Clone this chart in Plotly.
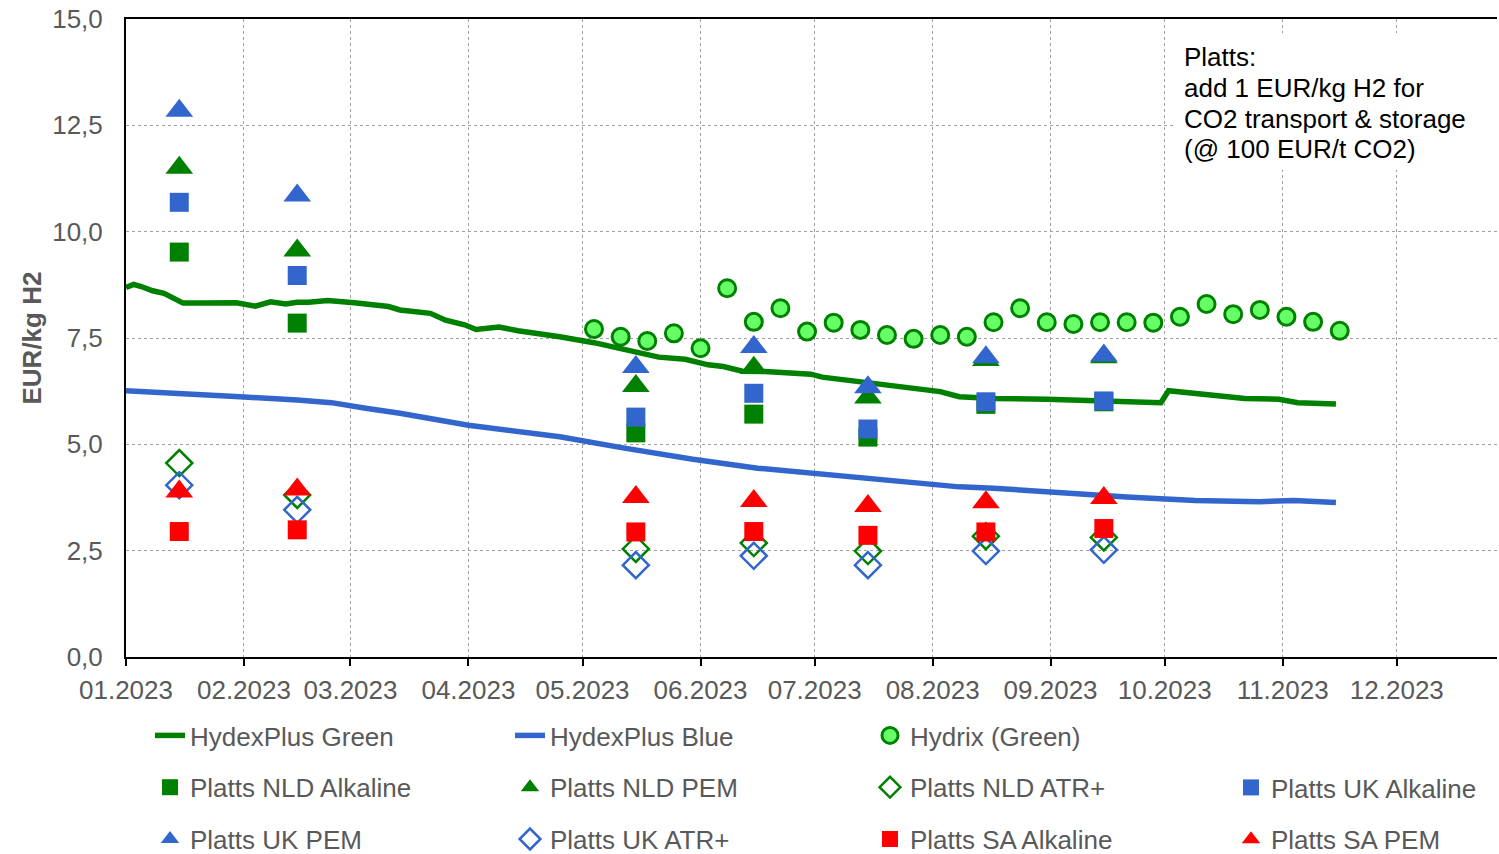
import plotly.graph_objects as go

# ---------------- data ----------------
green_dates = ["2023-01-01","2023-01-03","2023-01-05","2023-01-08","2023-01-11","2023-01-13","2023-01-16",
               "2023-01-21","2023-01-30","2023-02-04","2023-02-08","2023-02-12","2023-02-15","2023-02-18",
               "2023-02-23","2023-03-02","2023-03-06","2023-03-11","2023-03-14","2023-03-20","2023-03-22",
               "2023-03-26","2023-03-31","2023-04-03","2023-04-09","2023-04-14","2023-04-21","2023-04-25",
               "2023-05-04","2023-05-12","2023-05-21","2023-05-28","2023-06-03","2023-06-07","2023-06-12",
               "2023-06-18","2023-06-25","2023-06-30","2023-07-03","2023-07-08","2023-07-17","2023-07-21",
               "2023-07-28","2023-08-03","2023-08-08","2023-08-17","2023-08-31","2023-09-13","2023-09-18",
               "2023-09-21","2023-09-30","2023-10-02","2023-10-09","2023-10-15","2023-10-22","2023-10-31",
               "2023-11-05","2023-11-15"]
green_values = [8.69,8.76,8.71,8.61,8.55,8.46,8.32,8.32,8.33,8.25,8.35,8.30,8.34,8.34,8.38,8.33,8.28,8.24,
                8.16,8.10,8.08,7.92,7.81,7.70,7.76,7.67,7.59,7.53,7.39,7.22,7.05,7.00,6.87,6.83,6.72,6.71,
                6.67,6.65,6.58,6.53,6.44,6.40,6.32,6.24,6.12,6.08,6.06,6.03,6.00,5.98,5.98,6.26,6.18,6.14,
                6.08,6.06,5.98,5.95]

blue_dates = ["2023-01-01","2023-01-12","2023-01-23","2023-01-31","2023-02-15","2023-02-24","2023-03-05",
              "2023-03-14","2023-04-01","2023-04-14","2023-04-25","2023-05-12","2023-05-30","2023-06-16",
              "2023-07-04","2023-07-21","2023-08-08","2023-08-17","2023-09-04","2023-09-21","2023-10-09",
              "2023-10-26","2023-11-04","2023-11-15"]
blue_values = [6.26,6.22,6.18,6.12,6.04,5.98,5.85,5.73,5.45,5.29,5.18,4.91,4.65,4.44,4.28,4.15,4.00,3.97,
               3.85,3.76,3.68,3.65,3.68,3.63]

hydrix_dates = ["2023-05-04","2023-05-11","2023-05-18","2023-05-25","2023-06-01","2023-06-08","2023-06-15",
                "2023-06-22","2023-06-29","2023-07-06","2023-07-13","2023-07-20","2023-07-27","2023-08-03",
                "2023-08-10","2023-08-17","2023-08-24","2023-08-31","2023-09-07","2023-09-14","2023-09-21",
                "2023-09-28","2023-10-05","2023-10-12","2023-10-19","2023-10-26","2023-11-02","2023-11-09",
                "2023-11-16"]
hydrix_values = [7.71,7.53,7.43,7.61,7.26,8.67,7.88,8.20,7.65,7.86,7.69,7.57,7.48,7.57,7.53,7.87,8.20,7.87,
                 7.83,7.87,7.87,7.86,8.00,8.30,8.06,8.16,8.00,7.88,7.67]

platts_dates = ["2023-01-15","2023-02-15","2023-05-15","2023-06-15","2023-07-15","2023-08-15","2023-09-15"]
nld_alkaline = [9.52, 7.85, 5.27, 5.71, 5.17, 5.94, 6.00]
nld_pem      = [11.50, 9.56, 6.37, 6.80, 6.10, 6.98, 7.05]
nld_atr      = [4.56, 3.81, 2.54, 2.68, 2.49, 2.84, 2.81]
uk_alkaline  = [10.69, 8.97, 5.64, 6.20, 5.36, 6.00, 6.02]
uk_pem       = [12.84, 10.85, 6.82, 7.29, 6.34, 7.05, 7.09]
uk_atr       = [4.04, 3.46, 2.16, 2.38, 2.16, 2.49, 2.52]
sa_alkaline  = [2.95, 2.99, 2.94, 2.95, 2.86, 2.94, 3.02]
sa_pem       = [3.89, 3.94, 3.76, 3.67, 3.55, 3.64, 3.74]

month_ticks = ["2023-01-01","2023-02-01","2023-03-01","2023-04-01","2023-05-01","2023-06-01",
               "2023-07-01","2023-08-01","2023-09-01","2023-10-01","2023-11-01","2023-12-01"]

y_title = "EUR/kg H2"
note_lines = ["Platts:", "add 1 EUR/kg H2 for", "CO2 transport &amp; storage", "(@ 100 EUR/t CO2)"]

# ---------------- styles ----------------
GREEN = "#008000"
BLUE = "#3366CC"
RED = "#FF0000"
LIGHTGREEN = "#66FF66"
FONT = "Liberation Sans, Arial, sans-serif"
GRAY = "#595959"
FS = 26

W, H = 1499, 854
PL, PR, PT, PB = 126, 1497, 19, 657   # plot area in pixels

fig = go.Figure()

fig.add_trace(go.Scatter(x=green_dates, y=green_values, mode="lines", name="HydexPlus Green",
                         line=dict(color=GREEN, width=5.5), legend="legend", legendgroup="g1"))
fig.add_trace(go.Scatter(x=blue_dates, y=blue_values, mode="lines", name="HydexPlus Blue",
                         line=dict(color=BLUE, width=5.5), legend="legend2", legendgroup="g2"))
fig.add_trace(go.Scatter(x=hydrix_dates, y=hydrix_values, mode="markers", name="Hydrix (Green)",
                         marker=dict(symbol="circle", size=17, color=LIGHTGREEN,
                                     line=dict(color=GREEN, width=3)),
                         legend="legend3", legendgroup="g3"))

def pts(name, vals, symbol, color, leg, size, grp):
    if symbol == "diamond-open":
        marker = dict(symbol=symbol, size=size, color=color, line=dict(color=color, width=2.5))
    else:
        marker = dict(symbol=symbol, size=size, color=color, line=dict(width=0))
    fig.add_trace(go.Scatter(x=platts_dates, y=vals, mode="markers", name=name,
                             marker=marker, legend=leg, legendgroup=grp))

pts("Platts NLD Alkaline", nld_alkaline, "square", GREEN, "legend", 19, "g4")
pts("Platts NLD PEM", nld_pem, "triangle-up", GREEN, "legend2", 24, "g5")
pts("Platts NLD ATR+", nld_atr, "diamond-open", GREEN, "legend3", 20, "g6")
pts("Platts UK Alkaline", uk_alkaline, "square", BLUE, "legend4", 19, "g7")
pts("Platts UK PEM", uk_pem, "triangle-up", BLUE, "legend", 24, "g8")
pts("Platts UK ATR+", uk_atr, "diamond-open", BLUE, "legend2", 20, "g9")
pts("Platts SA Alkaline", sa_alkaline, "square", RED, "legend3", 19, "g10")
pts("Platts SA PEM", sa_pem, "triangle-up", RED, "legend4", 24, "g11")

ROW1_TOP = 712
ROW2_TOP = 764
def leg(xpx, toppx):
    return dict(orientation="v", xref="container", yref="container", x=xpx / W, y=1 - toppx / H,
                xanchor="left", yanchor="top", traceorder="grouped", tracegroupgap=15,
                font=dict(family=FONT, size=FS, color=GRAY), bgcolor="rgba(0,0,0,0)",
                borderwidth=0, itemclick=False, itemdoubleclick=False)

px = lambda v: (v - PL) / (PR - PL)
py = lambda v: (PB - v) / (PB - PT)

annotations = [dict(xref="paper", yref="paper", x=px(1175), y=py(101.5), xanchor="left", yanchor="middle",
                    text=" ", showarrow=False, bgcolor="white", width=330, height=137,
                    borderpad=0, borderwidth=0)]
for txt, yc in zip(note_lines, [57, 88, 119, 149]):
    annotations.append(dict(xref="paper", yref="paper", x=px(1184), y=py(yc), xanchor="left",
                            yanchor="middle", text=txt, showarrow=False, align="left",
                            borderpad=0, borderwidth=0,
                            font=dict(family=FONT, size=FS, color="black")))
annotations.append(dict(xref="paper", yref="paper", x=px(31), y=py(338.5), xanchor="center",
                        yanchor="middle", text="<b>" + y_title + "</b>", textangle=-90,
                        showarrow=False, font=dict(family=FONT, size=FS, color=GRAY)))

fig.update_layout(
    width=W, height=H,
    margin=dict(l=PL, r=W - PR, t=PT, b=H - PB, autoexpand=False),
    plot_bgcolor="white", paper_bgcolor="white",
    separators=",.",
    font=dict(family=FONT, size=FS, color=GRAY),
    showlegend=True,
    legend=leg(150, ROW1_TOP),
    legend2=leg(510, ROW1_TOP),
    legend3=leg(870, ROW1_TOP),
    legend4=leg(1231, ROW2_TOP),
    xaxis=dict(
        type="date", range=["2023-01-01", "2023-12-27 08:00"],
        tickvals=month_ticks, tickformat="%m.%Y",
        ticks="outside", ticklen=7, tickcolor="black", tickwidth=2,
        showline=True, linecolor="black", linewidth=2, mirror=True,
        showgrid=True, gridcolor="#A0A0A0", griddash="dot", gridwidth=1,
        tickfont=dict(family=FONT, size=FS, color=GRAY),
        ticklabelstandoff=2, automargin=False,
        zeroline=False,
    ),
    yaxis=dict(
        range=[0, 15], dtick=2.5, tick0=0, tickformat=".1f",
        ticks="", showline=True, linecolor="black", linewidth=2, mirror=False,
        showgrid=True, gridcolor="#A0A0A0", griddash="dot", gridwidth=1,
        tickfont=dict(family=FONT, size=FS, color=GRAY),
        ticklabelstandoff=16, automargin=False,
        zeroline=False,
    ),
    annotations=annotations,
)

fig.write_html("out.html", config={"displayModeBar": False},
               post_script="document.body.style.margin='0px';")
